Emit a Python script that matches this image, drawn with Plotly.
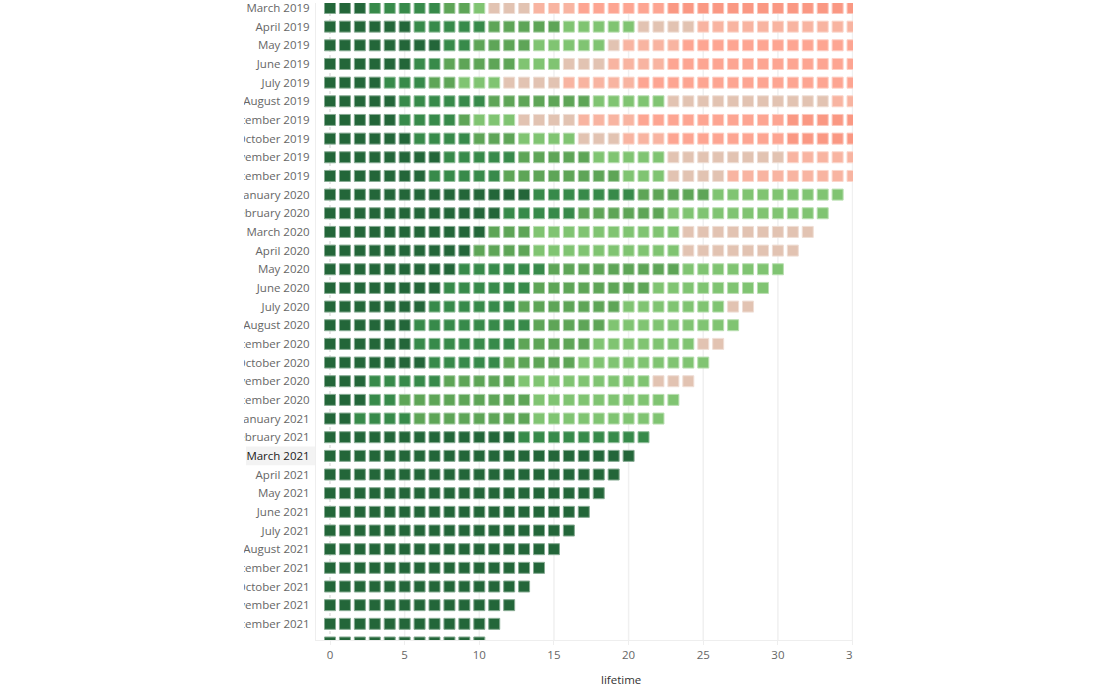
import plotly.graph_objects as go

# ---- data ----
months = [
    "March 2019", "April 2019", "May 2019", "June 2019", "July 2019", "August 2019",
    "September 2019", "October 2019", "November 2019", "December 2019",
    "January 2020", "February 2020", "March 2020", "April 2020", "May 2020", "June 2020",
    "July 2020", "August 2020", "September 2020", "October 2020", "November 2020",
    "December 2020", "January 2021", "February 2021", "March 2021", "April 2021",
    "May 2021", "June 2021", "July 2021", "August 2021", "September 2021",
    "October 2021", "November 2021", "December 2021", "January 2022",
]

# colour class of consecutive lifetime cells (class, number of cells), from lifetime 0
row_runs = [
    [(1, 3), (2, 5), (3, 2), (4, 1), (5, 3), (6, 3), (7, 6), (8, 13)],
    [(1, 6), (2, 5), (3, 5), (4, 5), (5, 4), (6, 11)],
    [(1, 8), (2, 2), (3, 4), (4, 5), (5, 1), (6, 4), (7, 12)],
    [(1, 6), (2, 2), (3, 5), (4, 3), (5, 3), (6, 4), (7, 13)],
    [(1, 4), (2, 3), (3, 2), (4, 3), (5, 4), (6, 5), (7, 15)],
    [(1, 5), (2, 6), (3, 7), (4, 5), (5, 11), (6, 2)],
    [(1, 5), (2, 4), (3, 1), (4, 3), (5, 4), (6, 4), (7, 10), (8, 5)],
    [(1, 6), (2, 4), (3, 3), (4, 4), (5, 3), (6, 3), (7, 8), (8, 5)],
    [(1, 8), (2, 5), (3, 5), (4, 5), (5, 8), (6, 5)],
    [(1, 7), (2, 5), (3, 8), (4, 3), (5, 4), (6, 9)],
    [(1, 14), (2, 7), (3, 5), (4, 9)],
    [(1, 12), (2, 5), (3, 6), (4, 11)],
    [(1, 11), (3, 3), (4, 10), (5, 9)],
    [(1, 10), (3, 4), (4, 10), (5, 8)],
    [(1, 9), (2, 6), (3, 9), (4, 7)],
    [(1, 8), (2, 6), (3, 8), (4, 8)],
    [(1, 7), (2, 6), (3, 7), (4, 7), (5, 2)],
    [(1, 6), (2, 8), (3, 5), (4, 9)],
    [(1, 6), (2, 7), (3, 5), (4, 7), (5, 2)],
    [(1, 7), (2, 5), (3, 5), (4, 9)],
    [(1, 3), (2, 5), (3, 5), (4, 9), (5, 3)],
    [(1, 3), (2, 2), (3, 9), (4, 10)],
    [(1, 2), (2, 4), (3, 8), (4, 9)],
    [(1, 13), (2, 9)],
    [(1, 21)],
    [(1, 20)],
    [(1, 19)],
    [(1, 18)],
    [(1, 17)],
    [(1, 16)],
    [(1, 15)],
    [(1, 14)],
    [(1, 13)],
    [(1, 12)],
    [(1, 11)],
]

class_colors = {
    1: "#236639",
    2: "#378A4A",
    3: "#5EA557",
    4: "#80C472",
    5: "#E2C3B2",
    6: "#F8B4A1",
    7: "#FDA592",
    8: "#FA9883",
}

x_ticks = [0, 5, 10, 15, 20, 25, 30, 35]
highlight_month = "March 2021"


def lighten(hex_color, f):
    h = hex_color.lstrip("#")
    r, g, b = (int(h[i:i + 2], 16) for i in (0, 2, 4))
    r, g, b = (round(c + (255 - c) * f) for c in (r, g, b))
    return f"rgb({r},{g},{b})"


xs, ys, fills, edges = [], [], [], []
for i, runs in enumerate(row_runs):
    k = 0
    for cls, n in runs:
        for _ in range(n):
            xs.append(k)
            ys.append(i)
            fills.append(class_colors[cls])
            edges.append(lighten(class_colors[cls], 0.45))
            k += 1

fig = go.Figure()
fig.add_trace(go.Scatter(
    x=xs, y=ys, mode="markers",
    marker=dict(symbol="square", size=11, color=fills,
                line=dict(color=edges, width=1)),
    hoverinfo="skip", showlegend=False,
))

W, H = 1100, 687
L, R, T, B = 316, 853, 0, 640
px_per_x = 14.93
x0_px = 330
px_per_row = 18.75
row0_px = 5

xr = [(L - x0_px) / px_per_x, (R - x0_px) / px_per_x]
yr = [(B - row0_px) / px_per_row, (T - row0_px) / px_per_row]

shapes = []
# highlight behind one row label
shapes.append(dict(type="rect", xref="paper", yref="y",
                   x0=(246 - L) / (R - L), x1=0,
                   y0=months.index(highlight_month) - 0.5,
                   y1=months.index(highlight_month) + 0.5,
                   fillcolor="#f3f3f3", line=dict(width=0), layer="below"))
# vertical gridlines
for t in x_ticks:
    if t == 0:
        shapes.append(dict(type="line", xref="x", yref="paper", x0=t, x1=t, y0=0, y1=1,
                           line=dict(color="#cfcfcf", width=1, dash="dot"), layer="below"))
    else:
        shapes.append(dict(type="line", xref="x", yref="paper", x0=t, x1=t, y0=0, y1=1,
                           line=dict(color="#f0f0f0", width=1.5), layer="below"))
# clipping masks (label column on the left, page edge on the right)
shapes.append(dict(type="rect", xref="paper", yref="paper",
                   x0=-L / (R - L) - 0.05, x1=(244 - L) / (R - L), y0=-0.2, y1=1.1,
                   fillcolor="white", line=dict(width=0), layer="above"))
shapes.append(dict(type="rect", xref="paper", yref="paper",
                   x0=1.0, x1=(W - L) / (R - L) + 0.05, y0=-0.2, y1=1.1,
                   fillcolor="white", line=dict(width=0), layer="above"))

ticktext = [f"<span style='color:#222'>{m}</span>" if m == highlight_month else m for m in months]

fig.update_layout(
    width=W, height=H,
    margin=dict(l=L, r=W - R, t=T, b=H - B, pad=0),
    paper_bgcolor="white", plot_bgcolor="white",
    font=dict(family="Open Sans, Lato, sans-serif", size=11.5, color="#666"),
    xaxis=dict(range=xr, tickvals=x_ticks, showgrid=False, zeroline=False,
               showline=True, linecolor="#eeeeee", linewidth=1,
               ticks="outside", ticklen=4, tickcolor="#eeeeee",
               tickfont=dict(size=11.5, color="#666")),
    yaxis=dict(range=yr, tickvals=list(range(len(months))), ticktext=ticktext,
               showgrid=False, zeroline=False, showline=True,
               linecolor="#eeeeee", linewidth=1, ticks="",
               ticklabelstandoff=3, ticklabeloverflow="allow",
               tickfont=dict(size=11.5, color="#666")),
    shapes=shapes,
    annotations=[dict(text="lifetime", xref="paper", yref="paper",
                      x=(621 - L) / (R - L), y=(B - 680) / (B - T),
                      xanchor="center", yanchor="middle", showarrow=False,
                      font=dict(size=11.5, color="#333"))],
)

fig.write_html("out.html", config={"displayModeBar": False},
               post_script="document.body.style.margin='0';document.body.style.overflow='hidden';")
